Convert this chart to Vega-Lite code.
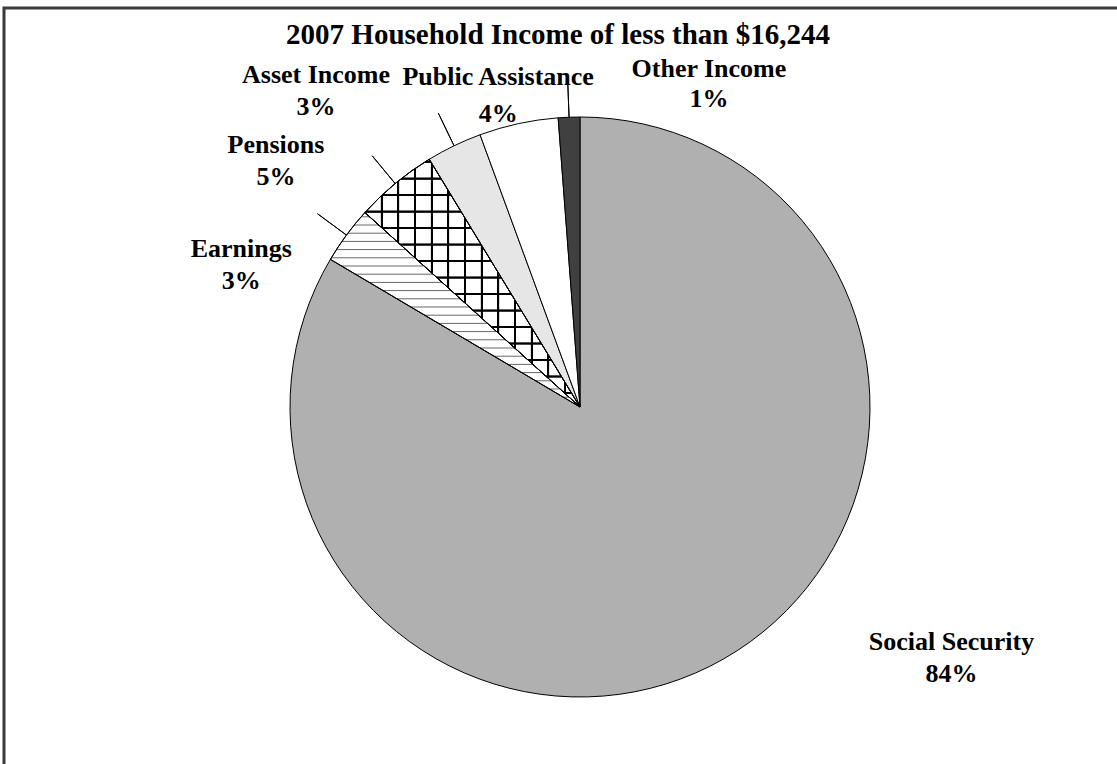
{
  "$schema": "https://vega.github.io/schema/vega-lite/v6.json",
  "width": 1152,
  "height": 798,
  "autosize": {"type": "none"},
  "padding": {"left": 4, "top": 8, "right": 0, "bottom": 0},
  "background": "white",
  "view": {"stroke": "#3a3a3a", "strokeWidth": 3},
  "title": {
    "text": "2007 Household Income of less than $16,244",
    "font": "Liberation Serif",
    "fontSize": 29,
    "fontWeight": "bold",
    "color": "black",
    "anchor": "middle",
    "baseline": "alphabetic",
    "offset": -65,
    "dx": -22
  },
  "data": {
    "values": [
      {"idx": 1, "cat": "Social Security", "value": 83.5, "pct": "84%"},
      {"idx": 2, "cat": "Earnings", "value": 3.2, "pct": "3%"},
      {"idx": 3, "cat": "Pensions", "value": 4.6, "pct": "5%"},
      {"idx": 4, "cat": "Asset Income", "value": 3.1, "pct": "3%"},
      {"idx": 5, "cat": "Public Assistance", "value": 4.4, "pct": "4%"},
      {"idx": 6, "cat": "Other Income", "value": 1.2, "pct": "1%"}
    ]
  },
  "transform": [
    {"stack": "value", "groupby": [], "sort": [{"field": "idx", "order": "ascending"}], "as": ["v0", "v1"]},
    {"calculate": "(datum.v0 + datum.v1) / 2", "as": "mid"},
    {"calculate": "datum.cat + '\\n' + datum.pct", "as": "label"}
  ],
  "layer": [
    {
      "mark": {"type": "arc", "outerRadius": 290, "stroke": "black", "strokeWidth": 1},
      "encoding": {
        "theta": {"field": "v0", "type": "quantitative", "scale": {"domain": [0, 100]}},
        "theta2": {"field": "v1"},
        "fill": {
          "field": "cat",
          "type": "nominal",
          "legend": null,
          "scale": {
            "domain": ["Social Security", "Earnings", "Pensions", "Asset Income", "Public Assistance", "Other Income"],
            "range": ["#b0b0b0", "#ffffff", "#ffffff", "#e6e6e6", "#ffffff", "#404040"]
          }
        }
      }
    },
    {
      "transform": [{"filter": "datum.cat === 'Pensions'"}],
      "mark": {
        "type": "arc", "outerRadius": 290, "stroke": "black", "strokeWidth": 1,
        "fill": {
          "gradient": "linear", "x1": 0, "y1": 0, "x2": 1, "y2": 0,
          "stops": [
            {"offset": 0.0723, "color": "rgba(0,0,0,0)"}, {"offset": 0.0739, "color": "#000"}, {"offset": 0.0823, "color": "#000"}, {"offset": 0.0839, "color": "rgba(0,0,0,0)"},
            {"offset": 0.1495, "color": "rgba(0,0,0,0)"}, {"offset": 0.1511, "color": "#000"}, {"offset": 0.1595, "color": "#000"}, {"offset": 0.1611, "color": "rgba(0,0,0,0)"},
            {"offset": 0.2271, "color": "rgba(0,0,0,0)"}, {"offset": 0.2287, "color": "#000"}, {"offset": 0.2371, "color": "#000"}, {"offset": 0.2387, "color": "rgba(0,0,0,0)"},
            {"offset": 0.3048, "color": "rgba(0,0,0,0)"}, {"offset": 0.3064, "color": "#000"}, {"offset": 0.3148, "color": "#000"}, {"offset": 0.3164, "color": "rgba(0,0,0,0)"},
            {"offset": 0.3819, "color": "rgba(0,0,0,0)"}, {"offset": 0.3835, "color": "#000"}, {"offset": 0.3919, "color": "#000"}, {"offset": 0.3935, "color": "rgba(0,0,0,0)"},
            {"offset": 0.4596, "color": "rgba(0,0,0,0)"}, {"offset": 0.4612, "color": "#000"}, {"offset": 0.4696, "color": "#000"}, {"offset": 0.4712, "color": "rgba(0,0,0,0)"},
            {"offset": 0.5372, "color": "rgba(0,0,0,0)"}, {"offset": 0.5388, "color": "#000"}, {"offset": 0.5472, "color": "#000"}, {"offset": 0.5488, "color": "rgba(0,0,0,0)"},
            {"offset": 0.6144, "color": "rgba(0,0,0,0)"}, {"offset": 0.6160, "color": "#000"}, {"offset": 0.6244, "color": "#000"}, {"offset": 0.6260, "color": "rgba(0,0,0,0)"},
            {"offset": 0.6920, "color": "rgba(0,0,0,0)"}, {"offset": 0.6936, "color": "#000"}, {"offset": 0.7020, "color": "#000"}, {"offset": 0.7036, "color": "rgba(0,0,0,0)"},
            {"offset": 0.7697, "color": "rgba(0,0,0,0)"}, {"offset": 0.7713, "color": "#000"}, {"offset": 0.7797, "color": "#000"}, {"offset": 0.7813, "color": "rgba(0,0,0,0)"},
            {"offset": 0.8468, "color": "rgba(0,0,0,0)"}, {"offset": 0.8484, "color": "#000"}, {"offset": 0.8568, "color": "#000"}, {"offset": 0.8584, "color": "rgba(0,0,0,0)"},
            {"offset": 0.9245, "color": "rgba(0,0,0,0)"}, {"offset": 0.9261, "color": "#000"}, {"offset": 0.9345, "color": "#000"}, {"offset": 0.9361, "color": "rgba(0,0,0,0)"}
          ]
        }
      },
      "encoding": {
        "theta": {"field": "v0", "type": "quantitative", "scale": {"domain": [0, 100]}},
        "theta2": {"field": "v1"}
      }
    },
    {
      "transform": [{"filter": "datum.cat === 'Pensions'"}],
      "mark": {
        "type": "arc", "outerRadius": 290, "stroke": "black", "strokeWidth": 1,
        "fill": {
          "gradient": "linear", "x1": 0, "y1": 0, "x2": 0, "y2": 1,
          "stops": [
            {"offset": 0.0063, "color": "rgba(0,0,0,0)"}, {"offset": 0.0077, "color": "#000"}, {"offset": 0.0149, "color": "#000"}, {"offset": 0.0163, "color": "rgba(0,0,0,0)"},
            {"offset": 0.0729, "color": "rgba(0,0,0,0)"}, {"offset": 0.0743, "color": "#000"}, {"offset": 0.0815, "color": "#000"}, {"offset": 0.0829, "color": "rgba(0,0,0,0)"},
            {"offset": 0.1395, "color": "rgba(0,0,0,0)"}, {"offset": 0.1409, "color": "#000"}, {"offset": 0.1481, "color": "#000"}, {"offset": 0.1495, "color": "rgba(0,0,0,0)"},
            {"offset": 0.2061, "color": "rgba(0,0,0,0)"}, {"offset": 0.2075, "color": "#000"}, {"offset": 0.2147, "color": "#000"}, {"offset": 0.2161, "color": "rgba(0,0,0,0)"},
            {"offset": 0.2726, "color": "rgba(0,0,0,0)"}, {"offset": 0.2740, "color": "#000"}, {"offset": 0.2812, "color": "#000"}, {"offset": 0.2826, "color": "rgba(0,0,0,0)"},
            {"offset": 0.3392, "color": "rgba(0,0,0,0)"}, {"offset": 0.3406, "color": "#000"}, {"offset": 0.3478, "color": "#000"}, {"offset": 0.3492, "color": "rgba(0,0,0,0)"},
            {"offset": 0.4058, "color": "rgba(0,0,0,0)"}, {"offset": 0.4072, "color": "#000"}, {"offset": 0.4144, "color": "#000"}, {"offset": 0.4158, "color": "rgba(0,0,0,0)"},
            {"offset": 0.4724, "color": "rgba(0,0,0,0)"}, {"offset": 0.4738, "color": "#000"}, {"offset": 0.4810, "color": "#000"}, {"offset": 0.4824, "color": "rgba(0,0,0,0)"},
            {"offset": 0.5390, "color": "rgba(0,0,0,0)"}, {"offset": 0.5404, "color": "#000"}, {"offset": 0.5476, "color": "#000"}, {"offset": 0.5490, "color": "rgba(0,0,0,0)"},
            {"offset": 0.6056, "color": "rgba(0,0,0,0)"}, {"offset": 0.6070, "color": "#000"}, {"offset": 0.6142, "color": "#000"}, {"offset": 0.6156, "color": "rgba(0,0,0,0)"},
            {"offset": 0.6722, "color": "rgba(0,0,0,0)"}, {"offset": 0.6736, "color": "#000"}, {"offset": 0.6808, "color": "#000"}, {"offset": 0.6822, "color": "rgba(0,0,0,0)"},
            {"offset": 0.7387, "color": "rgba(0,0,0,0)"}, {"offset": 0.7401, "color": "#000"}, {"offset": 0.7473, "color": "#000"}, {"offset": 0.7487, "color": "rgba(0,0,0,0)"},
            {"offset": 0.8053, "color": "rgba(0,0,0,0)"}, {"offset": 0.8067, "color": "#000"}, {"offset": 0.8139, "color": "#000"}, {"offset": 0.8153, "color": "rgba(0,0,0,0)"},
            {"offset": 0.8719, "color": "rgba(0,0,0,0)"}, {"offset": 0.8733, "color": "#000"}, {"offset": 0.8805, "color": "#000"}, {"offset": 0.8819, "color": "rgba(0,0,0,0)"},
            {"offset": 0.9385, "color": "rgba(0,0,0,0)"}, {"offset": 0.9399, "color": "#000"}, {"offset": 0.9471, "color": "#000"}, {"offset": 0.9485, "color": "rgba(0,0,0,0)"}
          ]
        }
      },
      "encoding": {
        "theta": {"field": "v0", "type": "quantitative", "scale": {"domain": [0, 100]}},
        "theta2": {"field": "v1"}
      }
    },
    {
      "transform": [{"filter": "datum.cat === 'Earnings'"}],
      "mark": {
        "type": "arc", "outerRadius": 290, "stroke": "black", "strokeWidth": 1,
        "fill": {
          "gradient": "linear", "x1": 0, "y1": 0, "x2": 0, "y2": 1,
          "stops": [
            {"offset": 0.0170, "color": "rgba(0,0,0,0)"}, {"offset": 0.0221, "color": "rgba(0,0,0,0.6)"}, {"offset": 0.0272, "color": "rgba(0,0,0,0)"},
            {"offset": 0.0592, "color": "rgba(0,0,0,0)"}, {"offset": 0.0643, "color": "rgba(0,0,0,0.6)"}, {"offset": 0.0694, "color": "rgba(0,0,0,0)"},
            {"offset": 0.1013, "color": "rgba(0,0,0,0)"}, {"offset": 0.1064, "color": "rgba(0,0,0,0.6)"}, {"offset": 0.1115, "color": "rgba(0,0,0,0)"},
            {"offset": 0.1435, "color": "rgba(0,0,0,0)"}, {"offset": 0.1486, "color": "rgba(0,0,0,0.6)"}, {"offset": 0.1537, "color": "rgba(0,0,0,0)"},
            {"offset": 0.1856, "color": "rgba(0,0,0,0)"}, {"offset": 0.1907, "color": "rgba(0,0,0,0.6)"}, {"offset": 0.1958, "color": "rgba(0,0,0,0)"},
            {"offset": 0.2278, "color": "rgba(0,0,0,0)"}, {"offset": 0.2329, "color": "rgba(0,0,0,0.6)"}, {"offset": 0.2380, "color": "rgba(0,0,0,0)"},
            {"offset": 0.2699, "color": "rgba(0,0,0,0)"}, {"offset": 0.2750, "color": "rgba(0,0,0,0.6)"}, {"offset": 0.2801, "color": "rgba(0,0,0,0)"},
            {"offset": 0.3121, "color": "rgba(0,0,0,0)"}, {"offset": 0.3172, "color": "rgba(0,0,0,0.6)"}, {"offset": 0.3223, "color": "rgba(0,0,0,0)"},
            {"offset": 0.3543, "color": "rgba(0,0,0,0)"}, {"offset": 0.3594, "color": "rgba(0,0,0,0.6)"}, {"offset": 0.3645, "color": "rgba(0,0,0,0)"},
            {"offset": 0.3964, "color": "rgba(0,0,0,0)"}, {"offset": 0.4015, "color": "rgba(0,0,0,0.6)"}, {"offset": 0.4066, "color": "rgba(0,0,0,0)"},
            {"offset": 0.4386, "color": "rgba(0,0,0,0)"}, {"offset": 0.4437, "color": "rgba(0,0,0,0.6)"}, {"offset": 0.4488, "color": "rgba(0,0,0,0)"},
            {"offset": 0.4807, "color": "rgba(0,0,0,0)"}, {"offset": 0.4858, "color": "rgba(0,0,0,0.6)"}, {"offset": 0.4909, "color": "rgba(0,0,0,0)"},
            {"offset": 0.5229, "color": "rgba(0,0,0,0)"}, {"offset": 0.5280, "color": "rgba(0,0,0,0.6)"}, {"offset": 0.5331, "color": "rgba(0,0,0,0)"},
            {"offset": 0.5650, "color": "rgba(0,0,0,0)"}, {"offset": 0.5701, "color": "rgba(0,0,0,0.6)"}, {"offset": 0.5752, "color": "rgba(0,0,0,0)"},
            {"offset": 0.6072, "color": "rgba(0,0,0,0)"}, {"offset": 0.6123, "color": "rgba(0,0,0,0.6)"}, {"offset": 0.6174, "color": "rgba(0,0,0,0)"},
            {"offset": 0.6493, "color": "rgba(0,0,0,0)"}, {"offset": 0.6544, "color": "rgba(0,0,0,0.6)"}, {"offset": 0.6595, "color": "rgba(0,0,0,0)"},
            {"offset": 0.6915, "color": "rgba(0,0,0,0)"}, {"offset": 0.6966, "color": "rgba(0,0,0,0.6)"}, {"offset": 0.7017, "color": "rgba(0,0,0,0)"},
            {"offset": 0.7337, "color": "rgba(0,0,0,0)"}, {"offset": 0.7388, "color": "rgba(0,0,0,0.6)"}, {"offset": 0.7439, "color": "rgba(0,0,0,0)"},
            {"offset": 0.7758, "color": "rgba(0,0,0,0)"}, {"offset": 0.7809, "color": "rgba(0,0,0,0.6)"}, {"offset": 0.7860, "color": "rgba(0,0,0,0)"},
            {"offset": 0.8180, "color": "rgba(0,0,0,0)"}, {"offset": 0.8231, "color": "rgba(0,0,0,0.6)"}, {"offset": 0.8282, "color": "rgba(0,0,0,0)"},
            {"offset": 0.8601, "color": "rgba(0,0,0,0)"}, {"offset": 0.8652, "color": "rgba(0,0,0,0.6)"}, {"offset": 0.8703, "color": "rgba(0,0,0,0)"},
            {"offset": 0.9023, "color": "rgba(0,0,0,0)"}, {"offset": 0.9074, "color": "rgba(0,0,0,0.6)"}, {"offset": 0.9125, "color": "rgba(0,0,0,0)"},
            {"offset": 0.9444, "color": "rgba(0,0,0,0)"}, {"offset": 0.9495, "color": "rgba(0,0,0,0.6)"}, {"offset": 0.9546, "color": "rgba(0,0,0,0)"},
            {"offset": 0.9866, "color": "rgba(0,0,0,0)"}, {"offset": 0.9917, "color": "rgba(0,0,0,0.6)"}, {"offset": 0.9968, "color": "rgba(0,0,0,0)"}
          ]
        }
      },
      "encoding": {
        "theta": {"field": "v0", "type": "quantitative", "scale": {"domain": [0, 100]}},
        "theta2": {"field": "v1"}
      }
    },
    {
      "transform": [{"filter": "datum.cat !== 'Public Assistance' && datum.cat !== 'Social Security'"}],
      "mark": {"type": "arc", "innerRadius": 290, "outerRadius": 326, "filled": false, "stroke": "black", "strokeWidth": 1},
      "encoding": {
        "theta": {"field": "mid", "type": "quantitative", "scale": {"domain": [0, 100]}},
        "theta2": {"field": "mid"}
      }
    },
    {
      "transform": [{"filter": "datum.cat === 'Social Security'"}],
      "mark": {"type": "text", "radius": 320, "dx": 213, "dy": -35, "lineHeight": 32},
      "encoding": {
        "theta": {"field": "mid", "type": "quantitative", "scale": {"domain": [0, 100]}},
        "text": {"field": "label"}
      }
    },
    {
      "transform": [{"filter": "datum.cat === 'Earnings'"}],
      "mark": {"type": "text", "radius": 320, "dx": -81, "dy": 40, "lineHeight": 32},
      "encoding": {
        "theta": {"field": "mid", "type": "quantitative", "scale": {"domain": [0, 100]}},
        "text": {"field": "label"}
      }
    },
    {
      "transform": [{"filter": "datum.cat === 'Pensions'"}],
      "mark": {"type": "text", "radius": 320, "dx": -100, "dy": -7, "lineHeight": 32},
      "encoding": {
        "theta": {"field": "mid", "type": "quantitative", "scale": {"domain": [0, 100]}},
        "text": {"field": "label"}
      }
    },
    {
      "transform": [{"filter": "datum.cat === 'Asset Income'"}],
      "mark": {"type": "text", "radius": 320, "dx": -125, "dy": -36, "lineHeight": 32},
      "encoding": {
        "theta": {"field": "mid", "type": "quantitative", "scale": {"domain": [0, 100]}},
        "text": {"field": "label"}
      }
    },
    {
      "transform": [{"filter": "datum.cat === 'Public Assistance'"}],
      "mark": {"type": "text", "radius": 320, "dx": -14, "dy": -9, "lineHeight": 37},
      "encoding": {
        "theta": {"field": "mid", "type": "quantitative", "scale": {"domain": [0, 100]}},
        "text": {"field": "label"}
      }
    },
    {
      "transform": [{"filter": "datum.cat === 'Other Income'"}],
      "mark": {"type": "text", "radius": 320, "dx": 141, "dy": -10, "lineHeight": 30},
      "encoding": {
        "theta": {"field": "mid", "type": "quantitative", "scale": {"domain": [0, 100]}},
        "text": {"field": "label"}
      }
    }
  ],
  "config": {
    "view": {"stroke": "#3a3a3a", "strokeWidth": 3},
    "style": {
      "cell": {"stroke": "#3a3a3a", "strokeWidth": 3},
      "view": {"stroke": "#3a3a3a", "strokeWidth": 3}
    },
    "text": {
      "font": "Liberation Serif",
      "fontSize": 26,
      "fontWeight": "bold",
      "color": "black",
      "align": "center",
      "baseline": "alphabetic",
      "lineBreak": "\n"
    }
  }
}
